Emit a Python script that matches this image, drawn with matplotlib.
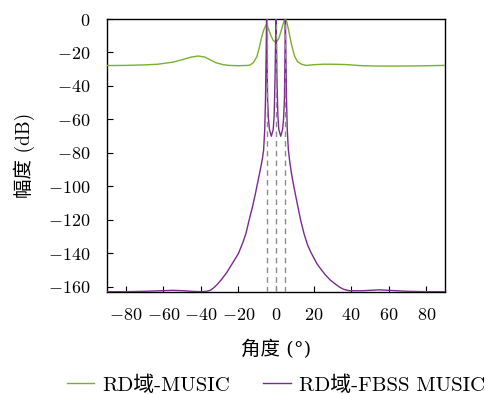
import matplotlib
matplotlib.use("Agg")
import matplotlib.pyplot as plt

plt.rcParams['font.family'] = ['cmr10', 'Noto Sans CJK SC', 'DejaVu Serif']
plt.rcParams['mathtext.fontset'] = 'cm'
plt.rcParams['axes.formatter.use_mathtext'] = True
plt.rcParams['axes.unicode_minus'] = True

# RD-MUSIC spectrum (dB)
music_ang = [-90, -80, -70, -63, -55, -50, -45, -41.5, -38, -35, -32, -28, -25, -20,
             -15, -13.8, -12, -10.2, -9, -7.6, -6.5, -5.3, -4.5, -3.5, -2.5, -1.5,
             -0.5, 0, 0.5, 1.5, 2.5, 3.5, 4.3, 5, 5.8, 6.6, 7.4, 8.5, 10, 11.5,
             13.6, 16, 20, 25, 30, 37, 42, 46, 55, 65, 75, 85, 90]
music_db = [-27.8, -27.7, -27.4, -27.0, -25.8, -24.3, -22.7, -22.1, -22.7, -24.4, -26.1,
            -27.3, -27.7, -27.9, -27.7, -27.5, -26.0, -22.5, -17.5, -10.6, -6.5, -3.6,
            -4.5, -7.5, -10.5, -12.8, -13.6, -13.5, -13.3, -11.5, -8.0, -4.0, -1.2, 0.0,
            -2.0, -6.0, -10.6, -16.5, -22.5, -25.5, -27.0, -27.7, -27.3, -27.0, -27.0,
            -27.2, -27.6, -27.9, -28.1, -28.1, -28.0, -27.8, -27.7]

# RD-FBSS MUSIC spectrum (dB)
fbss_ang = [-90, -80, -70, -60, -55, -50, -45, -40, -37, -35, -33.5, -31.4, -29, -26,
            -23, -20, -17.5, -16, -14.3, -12.5, -11, -10.2, -9, -8, -7.2, -6.6, -6,
            -5.6, -5.3, -5, -4.75, -4.5, -4, -3.5, -2.5, -1.5, -1, -0.5, -0.25, 0,
            0.25, 0.5, 1, 1.5, 2.5, 3.5, 4, 4.5, 4.75, 5, 5.3, 5.6, 6, 6.6, 7.3, 8.2,
            9.5, 11, 13.1, 15, 17, 18.9, 22, 26, 29, 32, 34, 36, 39, 45, 50, 55, 60,
            70, 80, 90]
fbss_db = [-162.8, -162.8, -162.6, -162.2, -162.0, -162.2, -162.6, -162.8, -162.6,
           -162.0, -160.8, -158.6, -155.5, -151.0, -145.5, -140.0, -133.0, -128.0,
           -120.0, -112.0, -104.5, -100.0, -93.5, -88.0, -83.0, -78.3, -66.0, -48.0,
           -25.0, 0.0, -25.0, -48.0, -60.0, -66.0, -70.0, -66.0, -58.0, -35.0, -15.0,
           0.0, -15.0, -35.0, -58.0, -66.0, -70.0, -66.0, -60.0, -48.0, -25.0, 0.0,
           -25.0, -48.0, -66.0, -78.3, -85.0, -92.0, -100.0, -108.5, -120.0, -128.5,
           -135.5, -140.0, -146.5, -152.4, -156.0, -158.6, -160.2, -161.4, -162.2,
           -162.3, -162.0, -161.7, -162.0, -162.6, -162.8, -162.8]

true_angles = [-5, 0, 5]

xticks = [-80, -60, -40, -20, 0, 20, 40, 60, 80]
yticks = [0, -20, -40, -60, -80, -100, -120, -140, -160]

green = '#78b02c'
purple = '#7b2a8e'

fig = plt.figure(figsize=(4.86, 3.94), dpi=100)
ax = fig.add_axes([107/486, 1-292/394, (445-107)/486, (292-19)/394])

ax.plot(music_ang, music_db, color=green, lw=1.0, label='RD域-MUSIC', zorder=3)
ax.plot(fbss_ang, fbss_db, color=purple, lw=1.0, label='RD域-FBSS MUSIC', zorder=3)
for a in true_angles:
    ax.axvline(a, color='#8c8c8c', lw=1.0, ls=(0, (4, 3)), zorder=4)

ax.set_xlim(-90, 90)
ax.set_ylim(-163, 0)
ax.set_xticks(xticks)
ax.set_yticks(yticks)
ax.tick_params(direction='in', labelsize=13, length=4, width=0.8,
               top=False, right=False)
ax.tick_params(axis='x', pad=11)
ax.tick_params(axis='y', pad=12)
for s in ax.spines.values():
    s.set_linewidth(1.0)

ax.set_xlabel('角度 (°)', fontsize=14, labelpad=12,
              family=['DejaVu Serif', 'Noto Sans CJK SC'])
ax.set_ylabel('幅度 (dB)', fontsize=14, labelpad=9)

fig.legend(loc='center', bbox_to_anchor=(276/486, 1-385/394), ncol=2, frameon=False,
           fontsize=15, handlelength=1.3, handletextpad=0.4, columnspacing=1.6,
           borderaxespad=0, borderpad=0)

fig.savefig('out.png', dpi=100)
